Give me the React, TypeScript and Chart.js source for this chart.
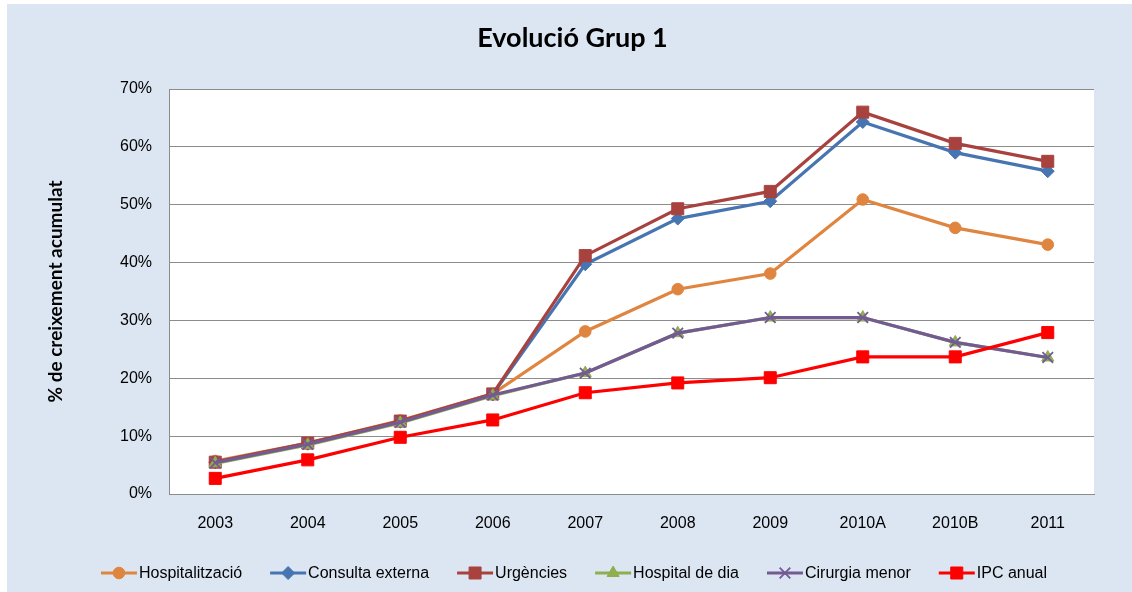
import React, { useEffect, useRef } from 'react';
import { Chart, registerables } from 'chart.js';
import { drawPoint } from 'chart.js/helpers';

Chart.register(...registerables);

// ---- Data ----
const categories = ['2003', '2004', '2005', '2006', '2007', '2008', '2009', '2010A', '2010B', '2011'];
const hospitalitzacio = [5.7, 8.8, 12.7, 17.3, 28.1, 35.4, 38.1, 50.9, 46.0, 43.1];
const consultaExterna = [5.5, 8.7, 12.5, 17.2, 39.7, 47.6, 50.6, 64.3, 59.0, 55.8];
const urgencies = [5.5, 8.8, 12.6, 17.3, 41.2, 49.3, 52.3, 66.0, 60.6, 57.5];
const hospitalDeDia = [5.3, 8.5, 12.3, 17.0, 20.9, 27.8, 30.5, 30.5, 26.2, 23.6];
const cirurgiaMenor = [5.4, 8.6, 12.4, 17.1, 20.9, 27.8, 30.5, 30.5, 26.2, 23.6];
const ipcAnual = [2.7, 5.9, 9.8, 12.8, 17.5, 19.2, 20.1, 23.7, 23.7, 27.9];
const yMin = 0;
const yMax = 70;
const yStep = 10;

const titleText = 'Evolució Grup 1';
const yAxisTitle = '% de creixement acumulat';

const FONT = '"Liberation Sans", Arial, sans-serif';
const TITLE_FONT = 'Lato, "Open Sans", sans-serif';

function makeDataset(label: string, data: number[], color: string, pointStyle: string, radius: number, borderW: number, order: number) {
  return {
    label,
    data,
    borderColor: color,
    backgroundColor: color,
    pointBackgroundColor: color,
    pointBorderColor: color,
    pointStyle,
    pointRadius: radius,
    pointHoverRadius: radius,
    pointBorderWidth: borderW,
    borderWidth: 3.2,
    tension: 0,
    fill: false,
    order,
  };
}

const bgPlugin = {
  id: 'bgPlugin',
  beforeDraw(chart: any) {
    const { ctx, chartArea } = chart;
    ctx.save();
    ctx.fillStyle = '#ffffff';
    ctx.fillRect(0, 0, chart.width, chart.height);
    ctx.fillStyle = '#DCE6F2';
    ctx.fillRect(7, 4, chart.width - 7, chart.height - 4);
    ctx.fillStyle = '#ffffff';
    ctx.fillRect(chartArea.left, chartArea.top, chartArea.right - chartArea.left, chartArea.bottom - chartArea.top);
    ctx.restore();
  },
  afterDraw(chart: any) {
    const { ctx } = chart;
    ctx.save();
    ctx.font = `bold 27px ${TITLE_FONT}`;
    ctx.fillStyle = '#000';
    ctx.textAlign = 'center';
    ctx.textBaseline = 'middle';
    ctx.fillText(titleText, 572.5, 38);
    ctx.restore();
  },
};

const legendPlugin = {
  id: 'lineLegend',
  afterDraw(chart: any) {
    const { ctx } = chart;
    ctx.save();
    ctx.font = `16px ${FONT}`;
    const lineLen = 36;
    const gap = 2;
    const spacing = 28;
    const items = chart.data.datasets.map((ds: any) => ({ ds, w: lineLen + gap + ctx.measureText(ds.label).width }));
    const total = items.reduce((s: number, it: any) => s + it.w, 0) + spacing * (items.length - 1);
    let x = 574 - total / 2;
    const y = 573;
    items.forEach(({ ds, w }: any) => {
      ctx.strokeStyle = ds.borderColor;
      ctx.lineWidth = 3;
      ctx.beginPath();
      ctx.moveTo(x, y);
      ctx.lineTo(x + lineLen, y);
      ctx.stroke();
      ctx.fillStyle = ds.pointBackgroundColor;
      ctx.strokeStyle = ds.pointBorderColor;
      ctx.lineWidth = ds.pointBorderWidth;
      drawPoint(ctx, { pointStyle: ds.pointStyle, radius: ds.pointRadius, rotation: 0, borderWidth: ds.pointBorderWidth } as any, x + lineLen / 2, y);
      ctx.fillStyle = '#000';
      ctx.textAlign = 'left';
      ctx.textBaseline = 'middle';
      ctx.fillText(ds.label, x + lineLen + gap, y + 1);
      x += w + spacing;
    });
    ctx.restore();
  },
};

export default function App() {
  const canvasRef = useRef<HTMLCanvasElement | null>(null);

  useEffect(() => {
    if (!canvasRef.current) return;
    const datasets = [
      makeDataset('Hospitalització', hospitalitzacio, '#E0853F', 'circle', 5.8, 1, 6),
      makeDataset('Consulta externa', consultaExterna, '#4675B2', 'rectRot', 6.5, 1, 5),
      makeDataset('Urgències', urgencies, '#A8423F', 'rect', 8.5, 1, 4),
      makeDataset('Hospital de dia', hospitalDeDia, '#8FAE50', 'triangle', 7, 1, 3),
      makeDataset('Cirurgia menor', cirurgiaMenor, '#735A93', 'crossRot', 7.5, 1.8, 2),
      makeDataset('IPC anual', ipcAnual, '#FF0000', 'rect', 8.5, 1, 1),
    ];
    const chart = new Chart(canvasRef.current, {
      type: 'line',
      data: { labels: categories, datasets: datasets as any },
      plugins: [bgPlugin, legendPlugin],
      options: {
        responsive: false,
        animation: false,
        events: [],
        layout: { padding: { top: 89, right: 38, left: 0, bottom: 0 } },
        plugins: {
          legend: { display: false },
          title: { display: false },
          tooltip: { enabled: false },
        },
        scales: {
          x: {
            offset: true,
            grid: { display: false, drawTicks: false },
            border: { display: true, color: '#8c8c8c', width: 1 },
            ticks: {
              color: '#000',
              font: { family: FONT, size: 16 },
              padding: 20,
              maxRotation: 0,
              autoSkip: false,
            },
            afterFit: (s: any) => {
              s.height = 98;
            },
          },
          y: {
            min: yMin,
            max: yMax,
            ticks: {
              stepSize: yStep,
              callback: (v: any) => `${v}%`,
              color: '#000',
              font: { family: FONT, size: 16 },
              padding: 17,
            },
            grid: { color: '#8c8c8c', drawTicks: false, lineWidth: 1 },
            border: { display: true, color: '#8c8c8c', width: 1 },
            title: {
              display: true,
              text: yAxisTitle,
              color: '#000',
              font: { family: TITLE_FONT, weight: 'bold', size: 19 },
              padding: { top: 44, bottom: 0 },
            },
            afterFit: (s: any) => {
              s.width = 169;
            },
          },
        },
      } as any,
    });
    return () => chart.destroy();
  }, []);

  return (
    <div style={{ position: 'fixed', left: 0, top: 0, width: 1132, height: 592 }}>
      <canvas ref={canvasRef} width={1132} height={592} style={{ display: 'block' }} />
    </div>
  );
}
